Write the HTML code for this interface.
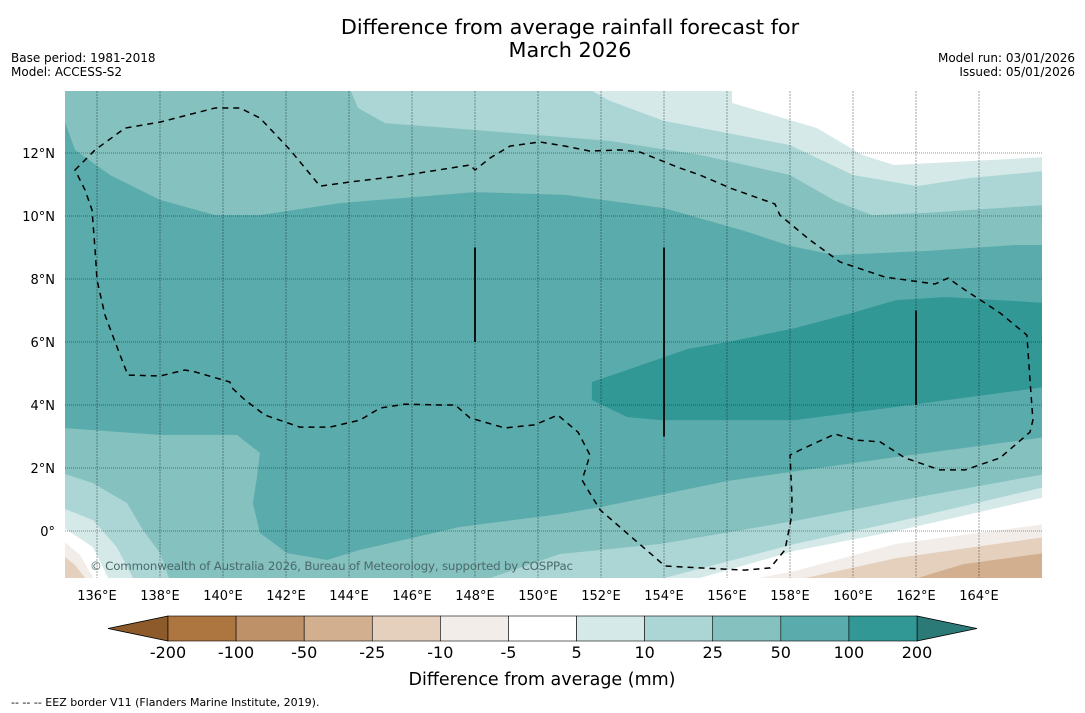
<!DOCTYPE html>
<html><head><meta charset="utf-8"><style>
body{margin:0;background:#fff;font-family:"Liberation Sans","DejaVu Sans",sans-serif;}
svg{display:block}
</style></head><body>
<svg id="chart" width="1085" height="713" viewBox="0 0 1085 713" xmlns="http://www.w3.org/2000/svg" font-family="DejaVu Sans, Liberation Sans, sans-serif">
<text x="570" y="34" text-anchor="middle" font-size="20.8">Difference from average rainfall forecast for</text>
<text x="570" y="57" text-anchor="middle" font-size="20.8">March 2026</text>
<text x="11" y="62" font-size="12">Base period: 1981-2018</text>
<text x="11" y="76" font-size="12">Model: ACCESS-S2</text>
<text x="1075" y="62" font-size="12" text-anchor="end">Model run: 03/01/2026</text>
<text x="1075" y="76" font-size="12" text-anchor="end">Issued: 05/01/2026</text>
<defs><clipPath id="mapclip"><rect x="65" y="91" width="977" height="487"/></clipPath></defs>
<g id="map" clip-path="url(#mapclip)"></g>
<g id="axes"></g>
<g id="cbar"></g>
<text x="542" y="685" text-anchor="middle" font-size="17.5">Difference from average (mm)</text>
<text x="11" y="706" font-size="11">--  --  -- EEZ border V11 (Flanders Marine Institute, 2019).</text>
</svg>
<script>
const NS="http://www.w3.org/2000/svg";
// Axis ticks
const lonTicks=[136,138,140,142,144,146,148,150,152,154,156,158,160,162,164];
const latTicks=[0,2,4,6,8,10,12];
// Colorbar levels and colours
const cbLevels=[-200,-100,-50,-25,-10,-5,5,10,25,50,100,200];
const cbColors=["#ad7540","#bf9168","#d2b08f","#e4d0bd","#f2ede9","#ffffff","#d5e9e8","#acd6d5","#84c1bf","#5aabab","#329896"];
// Contour regions [lon,lat]
const top50=[[134.9,13.21],[135.3,12.1],[136.41,11.3],[138,10.51],[139.75,10.03],[141.17,10.03],[143.71,10.41],[148,10.76],[150.86,10.67],[154,10.25],[156.57,9.52],[158,9.05],[159.43,8.76],[162.32,8.89],[165.17,9.08],[166.1,9.08]];
const top25=[[144.0,14.1],[144.29,13.43],[145.14,12.95],[148,12.73],[152.29,12.38],[155.14,11.94],[158,11.3],[159.43,10.48],[160.6,10.03],[162.32,10.1],[166.1,10.35]];
const top10=[[151.49,14.1],[152.29,13.65],[154,13.02],[158,12.25],[160,11.3],[162.03,10.95],[163.75,11.21],[166.1,11.43]];
const top5=[[156.16,14.1],[156.16,13.59],[158.86,12.79],[160.29,11.94],[161.3,11.62],[166.1,11.87]];
const core200=[[151.71,4.73],[151.71,4.16],[152.83,3.62],[153.9,3.52],[158.16,3.52],[161.37,3.94],[166.1,4.57],[166.1,7.24],[162.95,7.43],[161.37,7.33],[160.06,6.95],[158.16,6.44],[156.03,6.0],[154.76,5.78],[152.83,5.11]];
const bot50=[[134.9,3.27],[138,3.05],[140.44,3.05],[141.17,2.48],[141.08,1.71],[140.95,0.89],[141.17,-0.06],[142.03,-0.7],[143.3,-0.92],[144.35,-0.6],[147.52,0.13],[150.7,0.54],[151.97,0.76],[156.03,1.59],[161.37,2.35],[166.1,2.98]];
const bot25=[[134.9,1.84],[135.87,1.52],[136.95,0.89],[137.46,0.03],[138,-0.7],[138.32,-1.6],[148.16,-1.6],[150.7,-0.73],[153.9,-0.41],[158.16,0.32],[161.37,0.95],[166.1,1.81]];
const bot10=[[134.9,0.73],[135.87,0.35],[136.63,-0.51],[137.2,-1.6],[153.59,-1.6],[158.16,-0.41],[161.37,0.29],[166.1,1.4]];
const bot5=[[134.9,0.13],[135.87,-0.51],[136.41,-1.6],[154.76,-1.6],[158.16,-0.63],[161.37,0.0],[166.1,1.08]];
const botN5=[[156.41,-1.6],[158.16,-1.27],[161.37,-0.41],[166.1,0.22]];
const botN5w=[[134.9,-0.29],[135.46,-0.76],[135.94,-1.6]];
const botN10=[[158,-1.6],[161.37,-0.86],[166.1,-0.19]];
const botN10w=[[134.9,-0.76],[135.3,-1.08],[135.71,-1.6]];
const botN25=[[161.7,-1.6],[163.5,-1.05],[166.1,-0.7]];
const eez=[[135.3,11.46],[135.94,12.1],[136.89,12.79],[138,12.98],[139.75,13.43],[140.54,13.43],[141.17,13.11],[142.13,12.1],[143.08,10.95],[144.03,11.08],[145.62,11.27],[147.84,11.62],[148,11.46],[148.48,11.84],[149.11,12.22],[150.06,12.35],[150.86,12.22],[151.65,12.06],[152.6,12.1],[153.24,12.03],[154.03,11.71],[154.51,11.52],[155.14,11.3],[156.1,10.89],[157.52,10.38],[157.68,10.03],[158.63,9.24],[159.59,8.54],[161.02,8.06],[162.6,7.84],[163.02,8.03],[163.56,7.65],[164.67,6.92],[165.52,6.22],[165.62,4.79],[165.71,3.52],[165.62,3.14],[164.67,2.32],[163.56,1.94],[162.76,1.94],[161.65,2.32],[160.86,2.83],[160.06,2.89],[159.43,3.08],[158.32,2.57],[158,2.41],[158.06,1.14],[158.06,0.51],[157.84,-0.6],[157.37,-1.17],[156.57,-1.24],[155.14,-1.17],[154.03,-1.11],[151.97,0.67],[151.49,1.46],[151.4,1.62],[151.65,2.41],[151.27,3.14],[150.63,3.68],[149.9,3.37],[148.95,3.27],[147.84,3.59],[147.37,4.0],[146.89,4.0],[145.78,4.03],[144.98,3.9],[144.35,3.52],[143.4,3.3],[142.44,3.3],[141.33,3.68],[140.7,4.16],[140.29,4.54],[140.22,4.73],[139.11,5.05],[138.79,5.11],[138,4.92],[136.98,4.95],[136.73,5.59],[136.25,6.86],[136,7.97],[135.94,8.92],[135.84,10.19],[135.62,10.83]];
const segLon=[148,154,162];
const segLat0=[6,3,4];
const segLat1=[9,9,7];

const X=lon=>97+(lon-136)*31.5;
const Y=lat=>531-lat*31.5;
const map=document.getElementById('map');
const axes=document.getElementById('axes');
const cbar=document.getElementById('cbar');
function el(tag,attrs,parent){const e=document.createElementNS(NS,tag);for(const k in attrs)e.setAttribute(k,attrs[k]);parent.appendChild(e);return e;}
function pts(a){return a.map(p=>X(p[0]).toFixed(1)+','+Y(p[1]).toFixed(1)).join(' ');}
function topPoly(a,col,name){const full=[[134.9,14.2]].concat(a,[[166.2,14.2]]);const e=el('polygon',{points:pts(full),fill:col},map);}
function botPoly(a,col,name){const full=[[134.8,-1.7]].concat(a,[[166.2,-1.7]]);const e=el('polygon',{points:pts(full),fill:col},map);}
function botPolyR(a,col,name){const full=a.concat([[166.2,-1.7]]);const e=el('polygon',{points:pts(full),fill:col},map);}
function botPolyL(a,col,name){const full=[[134.8,-1.7]].concat(a);const e=el('polygon',{points:pts(full),fill:col},map);}

const bg=el('rect',{x:65,y:91,width:977,height:487,fill:cbColors[9]},map);


const c2=el('polygon',{points:pts(core200),fill:cbColors[10]},map);


topPoly(top50,cbColors[8],'band-25-50-north');
topPoly(top25,cbColors[7],'band-10-25-north');
topPoly(top10,cbColors[6],'band-5-10-north');
topPoly(top5,cbColors[5],'band-neutral-north');
botPoly(bot50,cbColors[8],'band-25-50-south');
botPoly(bot25,cbColors[7],'band-10-25-south');
botPoly(bot10,cbColors[6],'band-5-10-south');
botPoly(bot5,cbColors[5],'band-neutral-south');
botPolyR(botN5,cbColors[4],'band-minus5-minus10-east');
botPolyL(botN5w,cbColors[4],'band-minus5-minus10-west');
botPolyR(botN10,cbColors[3],'band-minus10-minus25-east');
botPolyL(botN10w,cbColors[3],'band-minus10-minus25-west');
botPolyR(botN25,cbColors[2],'band-minus25-minus50-east');

lonTicks.forEach(l=>{
  const g=el('line',{x1:X(l),x2:X(l),y1:91,y2:578,stroke:'#000','stroke-opacity':0.35,'stroke-width':1,'stroke-dasharray':'2,1'},map);
  
  
  const t=el('text',{x:X(l),y:600,'text-anchor':'middle','font-size':13},axes);
  t.textContent=l+'°E';
  
  
});
latTicks.forEach(l=>{
  const g=el('line',{x1:65,x2:1042,y1:Y(l),y2:Y(l),stroke:'#000','stroke-opacity':0.4,'stroke-width':1,'stroke-dasharray':'1,1'},map);
  
  
  const t=el('text',{x:55,y:Y(l)+5,'text-anchor':'end','font-size':13},axes);
  t.textContent=l===0?'0°':l+'°N';
  
  
});
segLon.forEach((l,i)=>{
  const s=el('line',{x1:X(l),x2:X(l),y1:Y(segLat0[i]),y2:Y(segLat1[i]),stroke:'#111','stroke-width':2},map);
  
  
});
const ez=el('polygon',{points:pts(eez),fill:'none',stroke:'#000','stroke-width':1.5,'stroke-dasharray':'6,5'},map);


const cp=el('text',{x:90,y:570,'font-size':11.8,fill:'#4a6a6a',textLength:483},map);
cp.textContent='© Commonwealth of Australia 2026, Bureau of Meteorology, supported by COSPPac';



const cbX0=168,cbX1=917,cbY=616,cbH=25;
const w=(cbX1-cbX0)/cbColors.length;
const lt=el('polygon',{points:`108,${cbY+cbH/2} ${cbX0},${cbY} ${cbX0},${cbY+cbH}`,fill:'#8d5a2b',stroke:'#000','stroke-width':0.8},cbar);


const rt=el('polygon',{points:`977,${cbY+cbH/2} ${cbX1},${cbY} ${cbX1},${cbY+cbH}`,fill:'#2b7a77',stroke:'#000','stroke-width':0.8},cbar);


cbColors.forEach((c,i)=>{
  const r=el('rect',{x:cbX0+i*w,y:cbY,width:w,height:cbH,fill:c,stroke:'#000','stroke-width':0.6},cbar);
  
  
});
cbLevels.forEach((v,i)=>{
  const t=el('text',{x:cbX0+i*w,y:658,'text-anchor':'middle','font-size':16},cbar);
  t.textContent=String(v);
  
  
});
</script>
</body></html>
